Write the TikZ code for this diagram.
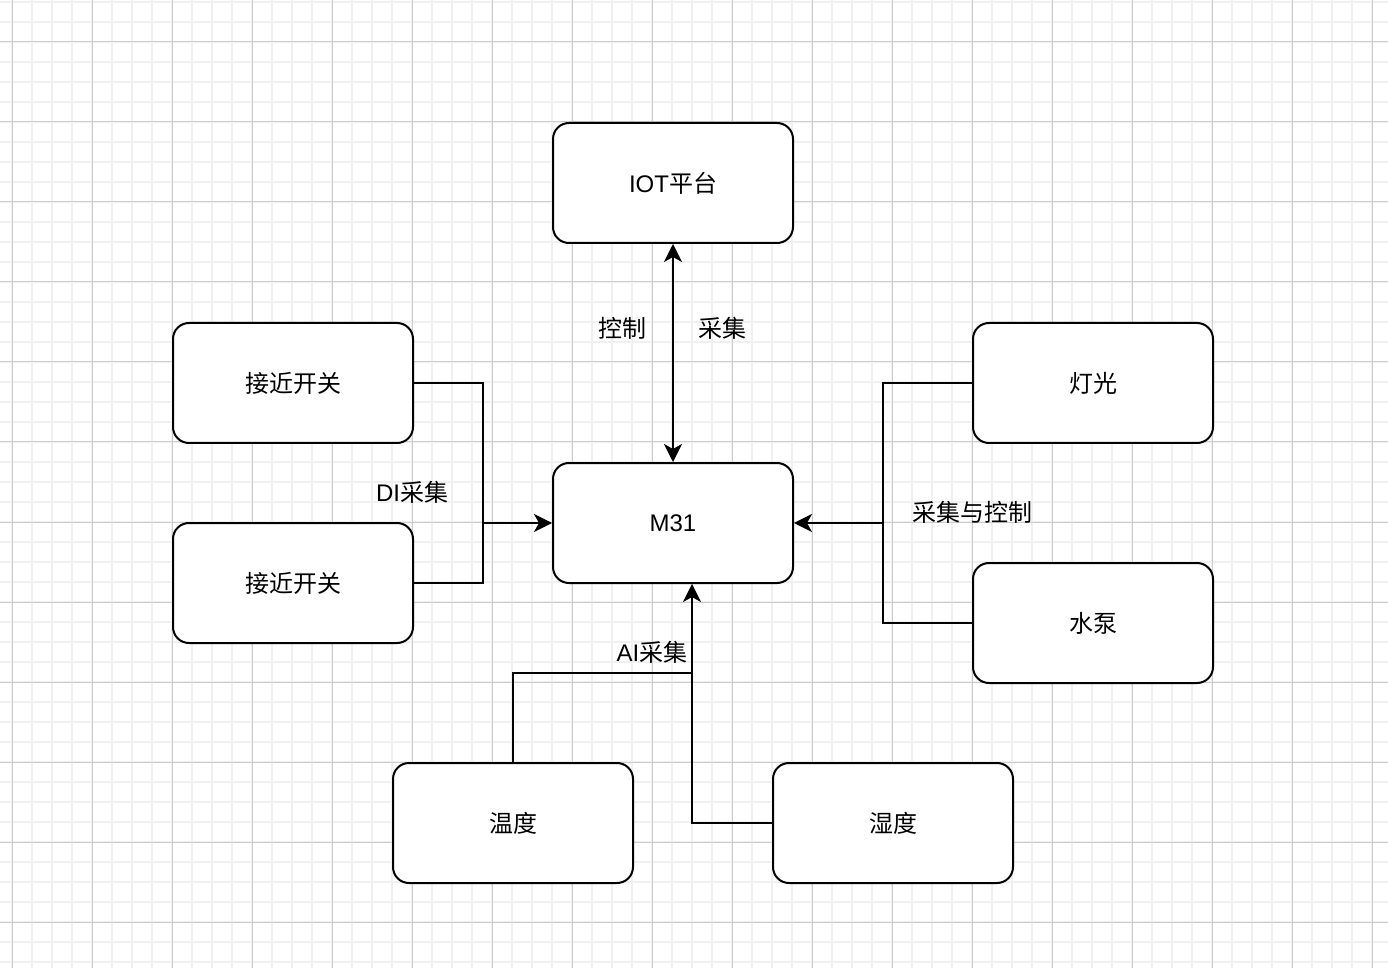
\documentclass[tikz,border=0pt]{standalone}
\usepackage{fontspec}
\setmainfont{Liberation Sans}
\newfontfamily\cjk{Noto Sans CJK SC}
\usetikzlibrary{positioning, arrows.meta}

\begin{document}
\begin{tikzpicture}[
  x=0.5pt, y=-0.5pt,
  >={Stealth[length=9pt, width=9pt, inset=2.5pt]},
  box/.style={draw, line width=1pt, rounded corners=8pt, fill=white,
    minimum width=120pt, minimum height=60pt, align=center,
    font=\fontsize{12}{14}\selectfont},
  link/.style={line width=1pt},
  arr/.style={link, ->},
  lbl/.style={font=\fontsize{12}{14}\selectfont\cjk},
  minorgrid/.style={draw=black!6, line width=1pt},
  majorgrid/.style={draw=black!20, line width=0.5pt},
]

\useasboundingbox (0,0) rectangle (1388,968);

% === background grid ===
\foreach \gx in {12,32,...,1388} \draw[minorgrid] (\gx,0) -- (\gx,968);
\foreach \gy in {2,22,...,968} \draw[minorgrid] (0,\gy) -- (1388,\gy);
\foreach \gx in {12,92,...,1372} \draw[majorgrid] (\gx,0) -- (\gx,968);
\foreach \gy in {42,122,...,922} \draw[majorgrid] (0,\gy) -- (1388,\gy);

% === boxes ===
\node[box] (iot) at (673,183) {IOT{\cjk 平台}};
\node[box] (m31) at (673,523) {M31};

\node[box] (prox1) at (293,383) {\cjk 接近开关};
\node[box] (prox2) at (293,583) {\cjk 接近开关};

\node[box] (light) at (1093,383) {\cjk 灯光};
\node[box] (pump) at (1093,623) {\cjk 水泵};

\node[box] (temp) at (513,823) {\cjk 温度};
\node[box] (hum) at (893,823) {\cjk 湿度};

% junction points
\coordinate (djoin) at (483,523);
\coordinate (rjoin) at (883,523);
\coordinate (ajoin) at (692,673);

% === connectors ===
\draw[link, <->] (iot) -- (m31);

\draw[arr] (prox1.east) -| (djoin) -- (m31.west);
\draw[link] (prox2.east) -| (djoin);

\draw[arr] (light.west) -| (rjoin) -- (m31.east);
\draw[link] (pump.west) -| (rjoin);

\draw[arr] (temp.north) |- (ajoin) -- (m31.south -| ajoin);
\draw[link] (hum.west) -| (ajoin);

% labels
\node[lbl] (ctrl) at (622,328) {控制};
\node[lbl] (coll) at (722,328) {采集};
\node[lbl] (dilbl) at (412,492) {{\rmfamily DI}采集};
\node[lbl] (rlbl) at (972,512) {采集与控制};
\node[lbl] (ailbl) at (652,652) {{\rmfamily AI}采集};

\end{tikzpicture}
\end{document}
